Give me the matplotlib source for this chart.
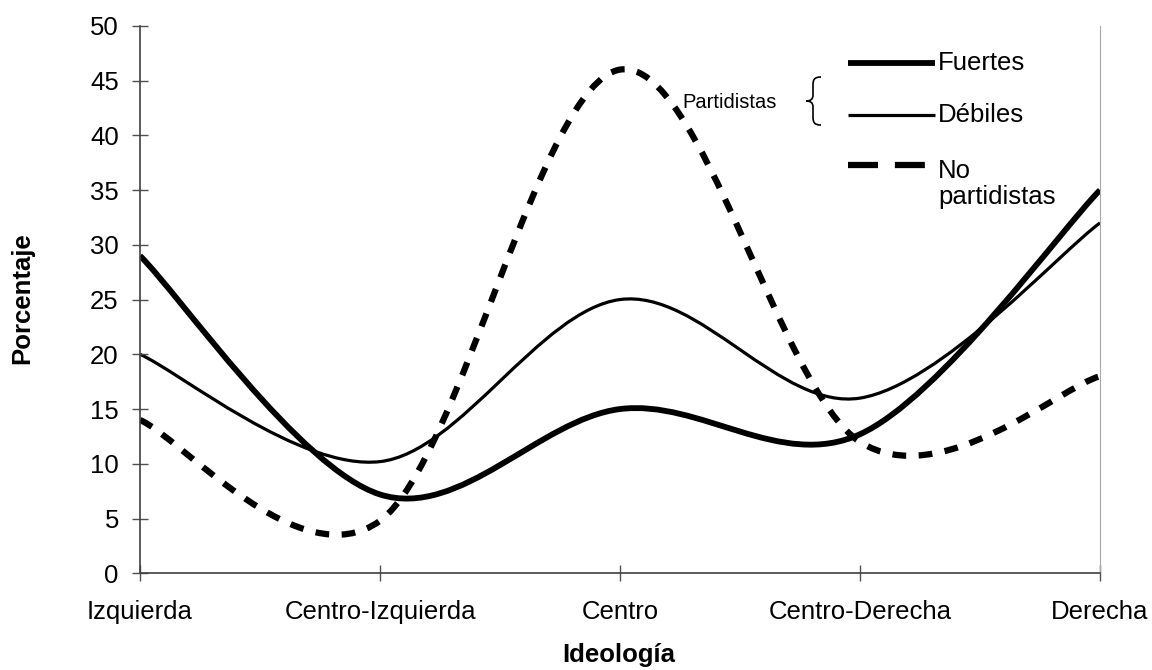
import matplotlib
matplotlib.use("Agg")
import matplotlib.pyplot as plt
from matplotlib.path import Path
from matplotlib.patches import PathPatch
from matplotlib.lines import Line2D

plt.rcParams["font.family"] = ["Liberation Sans", "DejaVu Sans"]

categorias = ["Izquierda", "Centro-Izquierda", "Centro", "Centro-Derecha", "Derecha"]
fuertes = [29, 7.2, 15, 12.7, 35]
debiles = [20, 10.2, 25, 16, 32]
no_partidistas = [14, 4.8, 46, 12, 18]


def smooth_path(ys):
    """Curva suavizada tipo Excel (Bezier cúbica por segmentos)."""
    pts = list(enumerate(ys))
    n = len(pts)
    verts = [pts[0]]
    codes = [Path.MOVETO]
    for i in range(n - 1):
        p0 = pts[max(i - 1, 0)]
        p1 = pts[i]
        p2 = pts[i + 1]
        p3 = pts[min(i + 2, n - 1)]
        c1 = (p1[0] + (p2[0] - p0[0]) / 6, p1[1] + (p2[1] - p0[1]) / 6)
        c2 = (p2[0] - (p3[0] - p1[0]) / 6, p2[1] - (p3[1] - p1[1]) / 6)
        verts += [c1, c2, p2]
        codes += [Path.CURVE4] * 3
    return Path(verts, codes)


fig = plt.figure(figsize=(11.52, 6.7), dpi=100)
ax = fig.add_axes([140 / 1152, 1 - 573.3 / 670, 960 / 1152, 547.5 / 670])

ax.add_patch(PathPatch(smooth_path(no_partidistas), fill=False, color="black",
                       lw=4.5, linestyle=(0, (2.2, 2.0)), capstyle="butt"))
ax.add_patch(PathPatch(smooth_path(fuertes), fill=False, color="black", lw=4.2))
ax.add_patch(PathPatch(smooth_path(debiles), fill=False, color="black", lw=2.3))

ax.set_xlim(0, len(categorias) - 1)
ax.set_ylim(0, 50)
ax.set_xticks(range(len(categorias)))
ax.set_xticklabels(categorias)
ax.set_yticks(range(0, 51, 5))

ax.spines["top"].set_visible(False)
ax.spines["right"].set_color("#a8a8a8")
for s in ["left", "bottom"]:
    ax.spines[s].set_color("#404040")
    ax.spines[s].set_linewidth(1.2)
ax.tick_params(axis="both", direction="inout", length=11.5, width=1.0,
               color="#505050", labelsize=18.5)
ax.tick_params(axis="x", pad=13.5)
ax.tick_params(axis="y", pad=9.5)

fig.text(22 / 1152, 1 - 298 / 670, "Porcentaje", rotation=90, ha="center",
         va="center", fontsize=18.5, fontweight="bold")
fig.text(619 / 1152, 1 - 655 / 670, "Ideología", ha="center", va="center",
         fontsize=18.5, fontweight="bold")

# leyenda manual
def fx(px):
    return px / 1152


def fy(py):
    return 1 - py / 670


fig.add_artist(Line2D([fx(848), fx(935)], [fy(63), fy(63)], color="black",
                      lw=4.2, solid_capstyle="butt"))
fig.add_artist(Line2D([fx(848), fx(935)], [fy(115), fy(115)], color="black",
                      lw=2.3, solid_capstyle="butt"))
fig.add_artist(Line2D([fx(848), fx(925)], [fy(165), fy(165)], color="black",
                      lw=4.5, linestyle=(0, (4.8, 2.7)), dash_capstyle="butt"))
fig.text(fx(938), fy(63), "Fuertes", ha="left", va="center", fontsize=18.5)
fig.text(fx(938), fy(115), "Débiles", ha="left", va="center", fontsize=18.5)
fig.text(fx(938), fy(184), "No\npartidistas", ha="left", va="center",
         fontsize=18.5, linespacing=1.15)
fig.text(fx(730), fy(103), "Partidistas", ha="center", va="center", fontsize=14.5)

brace_pts = [(821, 77), (814, 77), (813, 80), (813, 85), (813, 95),
             (813, 99), (811, 101), (806, 101),
             (811, 101), (813, 103), (813, 107), (813, 117),
             (813, 122), (814, 125), (821, 125)]
brace_codes = [Path.MOVETO, Path.CURVE4, Path.CURVE4, Path.CURVE4, Path.LINETO,
               Path.CURVE4, Path.CURVE4, Path.CURVE4,
               Path.CURVE4, Path.CURVE4, Path.CURVE4, Path.LINETO,
               Path.CURVE4, Path.CURVE4, Path.CURVE4]
brace = Path([(fx(x), fy(y)) for x, y in brace_pts], brace_codes)
fig.add_artist(PathPatch(brace, fill=False, color="black", lw=1.2,
                         transform=fig.transFigure))

fig.savefig("out.png", dpi=100)
